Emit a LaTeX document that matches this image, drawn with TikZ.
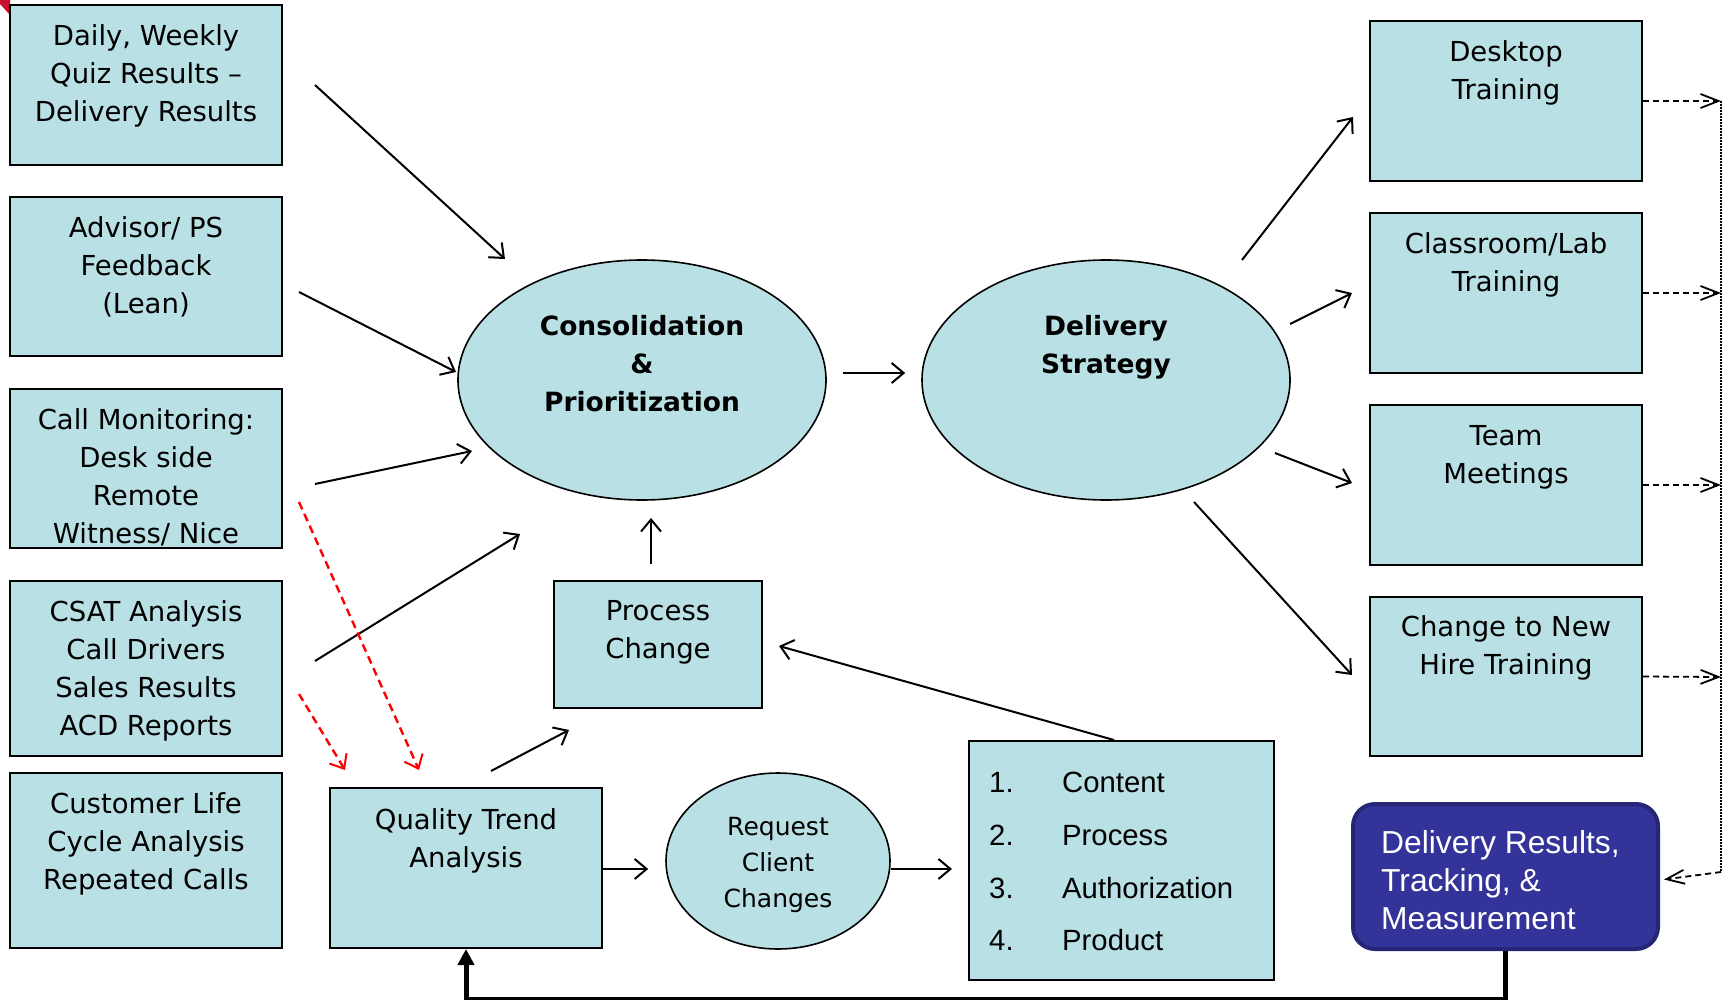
\documentclass[tikz,border=0pt]{standalone}
\usepackage{fontspec}
\setmainfont{DejaVu Sans}
\newfontfamily\arialfont{Liberation Sans}
\usetikzlibrary{arrows.meta,calc,shapes.geometric}
\definecolor{boxfill}{RGB}{185,224,228}
\definecolor{navyfill}{RGB}{51,51,153}
\definecolor{navyline}{RGB}{38,38,118}
\definecolor{cornerred}{RGB}{200,16,46}

\begin{document}
\begin{tikzpicture}[x=1pt,y=-1pt,
  box/.style={draw=black, fill=boxfill, line width=2pt, rectangle, inner sep=0pt},
  oval/.style={draw=black, fill=boxfill, line width=1.6pt, ellipse, inner sep=0pt},
  txt/.style={anchor=north, inner sep=0pt, align=center, font=\fontsize{27.5pt}{38pt}\selectfont},
  boldtxt/.style={anchor=north, inner sep=0pt, align=center, font=\fontsize{26.5pt}{38pt}\selectfont\bfseries},
  arr/.style={line width=2pt, -{Straight Barb[length=12pt,width=20pt,line width=2pt]}},
  reddash/.style={arr, draw=red, line width=2.4pt, dash pattern=on 8pt off 5pt},
  sidedash/.style={line width=1.8pt, dash pattern=on 6pt off 4pt, -{Straight Barb[length=18pt,width=14pt,line width=1.8pt]}},
  rail/.style={line width=1.6pt, dash pattern=on 2pt off 1pt},
  feedback/.style={line width=5pt, -{Triangle[length=16pt,width=16pt]}}
]
\useasboundingbox (0,0) rectangle (1729,1000);

% corner mark
\fill[cornerred] (0,0) -- (10,0) -- (10,15) -- (0,4) -- cycle;

% left column of sources
\node[box, minimum width=272pt, minimum height=160pt] (b1) at (146,85) {};
\node[box, minimum width=272pt, minimum height=159pt] (b2) at (146,276.5) {};
\node[box, minimum width=272pt, minimum height=159pt] (b3) at (146,468.5) {};
\node[box, minimum width=272pt, minimum height=175pt] (b4) at (146,668.5) {};
\node[box, minimum width=272pt, minimum height=175pt] (b5) at (146,860.5) {};
\node[txt] (t1) at (146,24) {Daily, Weekly\\Quiz Results --\\Delivery Results};
\node[txt] (t2) at (146,216) {Advisor/ PS\\Feedback\\(Lean)};
\node[txt] (t3) at (146,408) {Call Monitoring:\\Desk side\\Remote\\Witness/ Nice};
\node[txt] (t4) at (146,600) {CSAT Analysis\\Call Drivers\\Sales Results\\ACD Reports};
\node[txt] (t5) at (146,792) {Customer Life\\Cycle Analysis\\Repeated Calls};

% central ovals
\node[oval, minimum width=368pt, minimum height=240pt] (cons) at (642,380) {};
\node[boldtxt] (tcons) at (642,315) {Consolidation\\\&\\Prioritization};
\node[oval, minimum width=368pt, minimum height=240pt] (ds) at (1106,380) {};
\node[boldtxt] (tds) at (1106,315) {Delivery\\Strategy};

% process change and quality loop
\node[box, minimum width=208pt, minimum height=127pt] (pc) at (658,644.5) {};
\node[txt] (tpc) at (658,600) {Process\\Change};
\node[box, minimum width=272pt, minimum height=160pt] (qta) at (466,868) {};
\node[txt] (tqta) at (466,808) {Quality Trend\\Analysis};
\node[oval, minimum width=224pt, minimum height=176pt] (req) at (778,861) {};
\node[anchor=north, inner sep=0pt, align=center, font=\fontsize{25pt}{36pt}\selectfont] (treq) at (778,817) {Request\\Client\\Changes};
\node[box, minimum width=305pt, minimum height=239pt] (list) at (1121.5,860.5) {};
\node[anchor=north west, inner sep=0pt, align=left, font=\arialfont\fontsize{29.3pt}{52.7pt}\selectfont] (tlist) at (989,772)
  {\makebox[73pt][l]{1.}Content\\\makebox[73pt][l]{2.}Process\\\makebox[73pt][l]{3.}Authorization\\\makebox[73pt][l]{4.}Product};

% delivery channels
\node[box, minimum width=272pt, minimum height=160pt] (r1) at (1506,101) {};
\node[box, minimum width=272pt, minimum height=160pt] (r2) at (1506,293) {};
\node[box, minimum width=272pt, minimum height=160pt] (r3) at (1506,485) {};
\node[box, minimum width=272pt, minimum height=159pt] (r4) at (1506,676.5) {};
\node[txt] (tr1) at (1506,40) {Desktop\\Training};
\node[txt] (tr2) at (1506,232) {Classroom/Lab\\Training};
\node[txt] (tr3) at (1506,425) {Team\\Meetings};
\node[txt] (tr4) at (1506,615) {Change to New\\Hire Training};

% results box
\node[draw=navyline, fill=navyfill, line width=4pt, rounded corners=22pt, inner sep=0pt,
      minimum width=305pt, minimum height=145pt] (dr) at (1505.5,876.5) {};
\node[anchor=north west, inner sep=0pt, align=left, text=white, font=\arialfont\fontsize{31.8pt}{38pt}\selectfont] (tdr) at (1381,830)
  {Delivery Results,\\Tracking, \&\\Measurement};

% inputs into consolidation
\draw[arr] ($(b1.east)+(32,0)$) -- ($(cons)+(-137,-121)$);
\draw[arr] ($(b2.east)+(16,15.5)$) -- ($(cons)+(-186,-8)$);
\draw[arr] ($(b3.east)+(32,15.5)$) -- ($(cons)+(-170,71)$);
\draw[arr] ($(b4.east)+(32,-7.5)$) -- ($(cons)+(-122,154)$);
\draw[arr] ($(pc.north)+(-7,-16)$) -- ($(cons)+(9,138)$);

% red feeds into quality trend analysis
\draw[reddash] ($(b3.east)+(16,33.5)$) -- ($(qta.north)+(-47,-17)$);
\draw[reddash] ($(b4.east)+(16,25.5)$) -- ($(qta.north)+(-121,-17)$);

% quality loop
\draw[arr] ($(qta.north)+(25,-16)$) -- ($(pc.south)+(-89,21)$);
\draw[arr] ($(qta.east)+(0,1)$) -- ($(req.west)+(-17,8)$);
\draw[arr] ($(req.east)+(0,8)$) -- ($(list.west)+(-16,8.5)$);
\draw[arr] ($(list.north)+(-7.5,0)$) -- ($(pc.east)+(16,1.5)$);

% strategy and channels
\draw[arr] ($(cons.east)+(16,-7)$) -- ($(ds.west)+(-16,-7)$);
\draw[arr] ($(ds)+(136,-120)$) -- ($(r1.west)+(-16,16)$);
\draw[arr] ($(ds)+(184,-56)$) -- ($(r2.west)+(-17,0)$);
\draw[arr] ($(ds)+(169,73)$) -- ($(r3.west)+(-17,-2)$);
\draw[arr] ($(ds)+(88,122)$) -- ($(r4.west)+(-17,-1.5)$);

% dashed collection rail on the right
\coordinate (k1) at (1721,101);
\coordinate (k2) at (1721,293);
\coordinate (k3) at (1721,485);
\coordinate (k4) at (1721,677);
\coordinate (k5) at (1721,872);
\draw[sidedash] (r1.east) -- (k1);
\draw[sidedash] (r2.east) -- (k2);
\draw[sidedash] (r3.east) -- (k3);
\draw[sidedash] (r4.east) -- (k4);
\draw[rail] (k1) -- (k5);
\draw[sidedash] (k5) -- ($(dr.east)+(4,3)$);

% feedback to quality trend analysis
\draw[feedback] (dr.south) -- ++(0,48) -| (qta.south);
\end{tikzpicture}
\end{document}
